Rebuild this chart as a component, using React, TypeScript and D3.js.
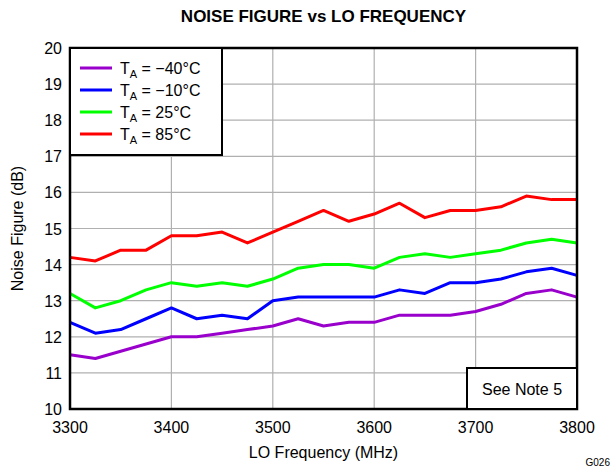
import * as d3 from 'd3'

const freqs = d3.range(3300, 3801, 25)
const xTicks = [3300, 3400, 3500, 3600, 3700, 3800]
const yTicks = [10, 11, 12, 13, 14, 15, 16, 17, 18, 19, 20]

const tm40 = [11.5, 11.4, 11.6, 11.8, 12.0, 12.0, 12.1, 12.2, 12.3, 12.5, 12.3, 12.4, 12.4, 12.6, 12.6, 12.6, 12.7, 12.9, 13.2, 13.3, 13.1]
const tm10 = [12.4, 12.1, 12.2, 12.5, 12.8, 12.5, 12.6, 12.5, 13.0, 13.1, 13.1, 13.1, 13.1, 13.3, 13.2, 13.5, 13.5, 13.6, 13.8, 13.9, 13.7]
const t25 = [13.2, 12.8, 13.0, 13.3, 13.5, 13.4, 13.5, 13.4, 13.6, 13.9, 14.0, 14.0, 13.9, 14.2, 14.3, 14.2, 14.3, 14.4, 14.6, 14.7, 14.6]
const t85 = [14.2, 14.1, 14.4, 14.4, 14.8, 14.8, 14.9, 14.6, 14.9, 15.2, 15.5, 15.2, 15.4, 15.7, 15.3, 15.5, 15.5, 15.6, 15.9, 15.8, 15.8]

const series = [
  { label: ' = \u221240\u00b0C', values: tm40, color: '#9900cc' },
  { label: ' = \u221210\u00b0C', values: tm10, color: '#0000ff' },
  { label: ' = 25\u00b0C', values: t25, color: '#00ff00' },
  { label: ' = 85\u00b0C', values: t85, color: '#ff0000' },
]

const font = 'Arial, "Liberation Sans", sans-serif'

export default function App() {
  const L = 70, R = 577, T = 48, B = 409
  const x = d3.scaleLinear().domain([3300, 3800]).range([L, R])
  const y = d3.scaleLinear().domain([10, 20]).range([B, T])
  const line = d3.line<number>().x((_, i) => x(freqs[i])).y(d => y(d))

  return (
    <svg width={613} height={472} style={{ position: 'absolute', left: 0, top: 0 }} fontFamily={font}>
      <rect width={613} height={472} fill="#fff" />
      <text x={(L + R) / 2} y={22} textAnchor="middle" fontSize={17} fontWeight="bold">NOISE FIGURE vs LO FREQUENCY</text>
      {yTicks.map(t => <line key={'y' + t} x1={L} x2={R} y1={y(t)} y2={y(t)} stroke="#b0b0b0" strokeWidth={1.2} />)}
      {xTicks.map(t => <line key={'x' + t} x1={x(t)} x2={x(t)} y1={T} y2={B} stroke="#b0b0b0" strokeWidth={1.2} />)}
      {series.map(s => <path key={s.label} d={line(s.values)!} fill="none" stroke={s.color} strokeWidth={3} strokeLinejoin="round" />)}
      <rect x={L} y={T} width={R - L} height={B - T} fill="none" stroke="#000" strokeWidth={2.5} />
      {yTicks.map(t => <text key={'yl' + t} x={L - 8} y={y(t) + 6} textAnchor="end" fontSize={16}>{t}</text>)}
      {xTicks.map(t => <text key={'xl' + t} x={x(t)} y={B + 24} textAnchor="middle" fontSize={16}>{t}</text>)}
      <text x={(L + R) / 2} y={458} textAnchor="middle" fontSize={16}>LO Frequency (MHz)</text>
      <text transform={`translate(23,${(T + B) / 2}) rotate(-90)`} textAnchor="middle" fontSize={16}>Noise Figure (dB)</text>
      <text x={610} y={466} textAnchor="end" fontSize={10}>G026</text>
      <rect x={L} y={T} width={152} height={107} fill="#fff" stroke="#000" strokeWidth={2} />
      {series.map((s, i) => (
        <g key={'lg' + i} transform={`translate(0,${T + 20 + i * 22})`}>
          <line x1={L + 10} x2={L + 42} y1={0} y2={0} stroke={s.color} strokeWidth={3} />
          <text x={L + 50} y={6} fontSize={16}>T<tspan fontSize={11} dy={4}>A</tspan><tspan dy={-4}>{s.label}</tspan></text>
        </g>
      ))}
      <rect x={467} y={368} width={R - 467} height={B - 368} fill="#fff" stroke="#000" strokeWidth={2} />
      <text x={(467 + R) / 2} y={395} textAnchor="middle" fontSize={16}>See Note 5</text>
    </svg>
  )
}
